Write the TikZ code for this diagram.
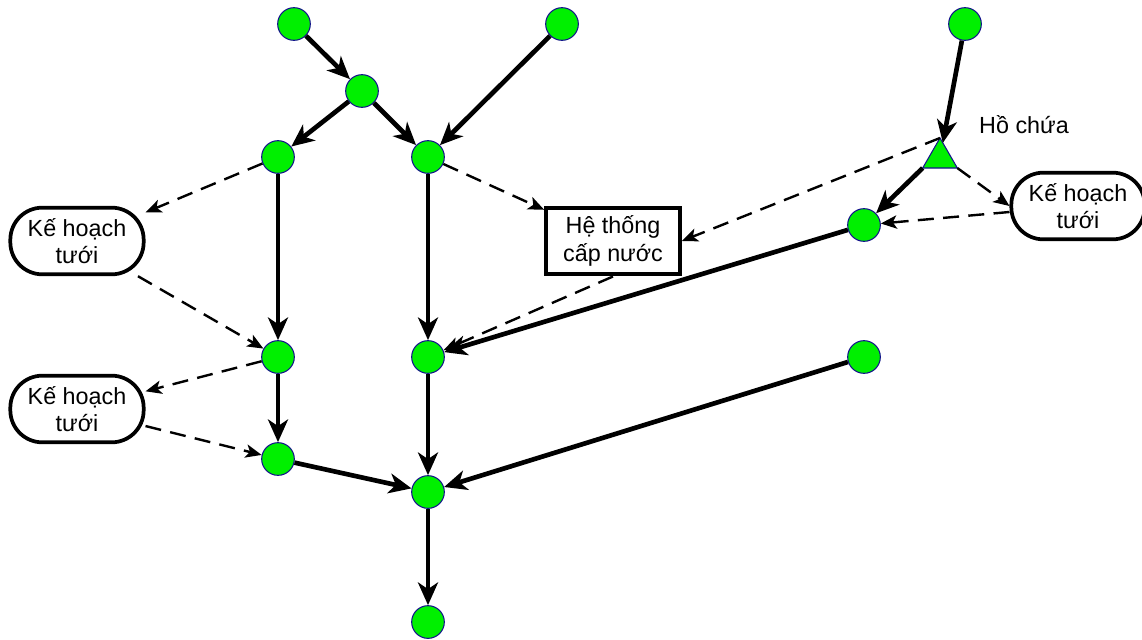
\documentclass[tikz,border=0pt]{standalone}
\usepackage{fontspec}
\setmainfont{Liberation Sans}
\usetikzlibrary{arrows.meta,shapes.geometric}
\definecolor{junction}{RGB}{0,240,0}
\definecolor{rim}{RGB}{20,20,140}
\tikzset{
  junc/.style={circle,fill=junction,draw=rim,line width=0.8pt,minimum size=24.5pt,inner sep=0pt},
  res/.style={regular polygon,regular polygon sides=3,fill=junction,draw=rim,line width=0.8pt,minimum size=30pt,inner sep=0pt,outer sep=0pt},
  plan/.style={draw,line width=2.8pt,rounded corners=24pt,minimum width=100pt,minimum height=50pt,align=center,inner sep=2pt},
  supply/.style={draw,line width=3.2pt,minimum width=100pt,minimum height=50pt,align=center,inner sep=2pt},
  flow/.style={line width=3.5pt,-{Stealth[length=17pt,width=15pt,inset=5pt]}},
  ctrl/.style={line width=1.8pt,dash pattern=on 12pt off 7pt,-{Stealth[length=12pt,width=10pt,inset=3pt]}},
  lbl/.style={font=\fontsize{17.5}{20.5}\selectfont}
}
\begin{document}
\begin{tikzpicture}[x=0.75pt,y=-0.75pt]
\useasboundingbox (0,0) rectangle (1142,639);

% junctions of the river network
\node[junc] (a) at (294,24) {};
\node[junc] (b) at (562,24) {};
\node[junc] (c) at (965,24) {};
\node[junc] (d) at (362,91) {};
\node[junc] (e) at (278,157) {};
\node[junc] (f) at (428,157) {};
\node[junc] (g) at (864,225) {};
\node[junc] (h) at (278,357) {};
\node[junc] (i) at (428,357) {};
\node[junc] (j) at (864,357) {};
\node[junc] (k) at (278,459) {};
\node[junc] (l) at (428,492) {};
\node[junc] (m) at (428,622) {};

% reservoir
\node[res] (t) at (940,158) {};
\node[lbl] (tl) at (1024,125) {Hồ chứa};

% irrigation plans and water supply system
\node[plan,lbl] (p1) at (77,241) {Kế hoạch\\tưới};
\node[plan,lbl] (p2) at (77,409) {Kế hoạch\\tưới};
\node[plan,lbl] (p3) at (1078,206) {Kế hoạch\\tưới};
\node[supply,lbl] (s) at (613,241) {Hệ thống\\cấp nước};

% river flow
\draw[flow] (a) -- (d);
\draw[flow] (d) -- (e);
\draw[flow] (d) -- (f);
\draw[flow] (b) -- (f);
\draw[flow] (e) -- (h);
\draw[flow] (f) -- (i);
\draw[flow] (h) -- (k);
\draw[flow] (i) -- (l);
\draw[flow] (k) -- (l);
\draw[flow] (j) -- (l);
\draw[flow] (l) -- (m);
\draw[flow] (c) -- (t);
\draw[flow] (t.corner 2) -- (g);
\draw[flow] (g) -- (i);

% withdrawals and return flows
\draw[ctrl] (e) -- (p1);
\draw[ctrl] (p1) -- (h);
\draw[ctrl] (h) -- (p2);
\draw[ctrl] (p2) -- (k);
\draw[ctrl] (f) -- (s);
\draw[ctrl] (t.corner 1) -- (s.east);
\draw[ctrl] (s.south) -- (i);
\draw[ctrl] (t.corner 3) -- (p3.west);
\draw[ctrl] (p3.185) -- (g);
\end{tikzpicture}
\end{document}
